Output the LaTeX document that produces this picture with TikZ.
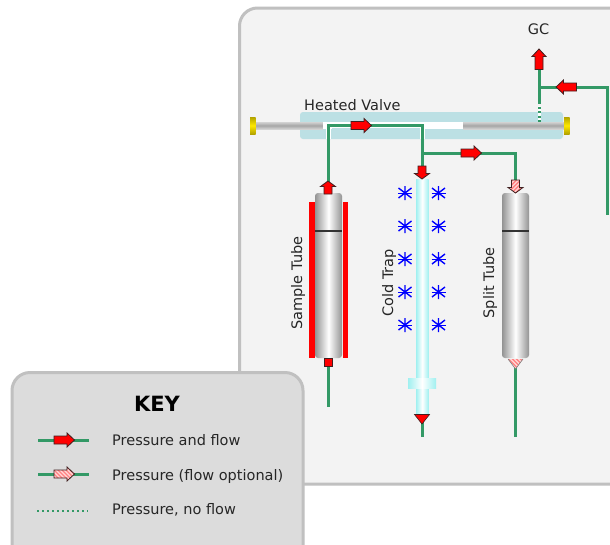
\documentclass[tikz,border=0pt]{standalone}
\usepackage{fontspec}
\setmainfont{DejaVu Sans}
\definecolor{pipe}{HTML}{339966}
\definecolor{panelfill}{HTML}{F3F3F3}
\definecolor{keyfill}{HTML}{DCDCDC}
\definecolor{frame}{HTML}{C0C0C0}
\definecolor{plate}{HTML}{BCE0E4}
\definecolor{pinkfill}{HTML}{FFD8D8}
\definecolor{hatch}{HTML}{FF8080}
\definecolor{trap}{HTML}{A0F0F0}
\definecolor{cap}{HTML}{FFE800}
\definecolor{outl}{HTML}{402020}
\newcommand{\hatchlines}{\foreach \hh in {-18,-14,...,18}{\draw[hatch,line width=1.4pt] (\hh-9,-9) -- (\hh+9,9);}}
\tikzset{
  x=1pt,y=-1pt,
  pipeline/.style={draw=pipe,line width=3pt},
  panel/.style={draw=frame,line width=3pt,rounded corners=18pt},
  lbl/.style={inner sep=0pt,font=\fontsize{14.5}{17}\selectfont,text=black!85},
  solidarrow/.style={draw=outl,line width=0.8pt,fill=red},
  tubegrad/.style={left color=gray!85,right color=gray!85,middle color=white},
  trapgrad/.style={left color=trap,right color=trap,middle color=white},
  rodgrad/.style={top color=gray!35,bottom color=gray!35,middle color=gray!70},
  capgrad/.style={top color=cap!70!black,bottom color=cap!70!black,middle color=cap},
  flake/.style={draw=blue,line width=1.4pt},
  pics/blockarrow/.style={code={
    \path[pic actions] (-10,-4) -- (3,-4) -- (3,-7) -- (10.5,0) -- (3,7) -- (3,4) -- (-10,4) -- cycle;
  }},
  pics/softblock/.style={code={
    \fill[pinkfill] (-10,-4) -- (3,-4) -- (3,-7) -- (10.5,0) -- (3,7) -- (3,4) -- (-10,4) -- cycle;
    \begin{scope}
      \clip (-10,-4) -- (3,-4) -- (3,-7) -- (10.5,0) -- (3,7) -- (3,4) -- (-10,4) -- cycle;
      \hatchlines
    \end{scope}
    \draw[outl,line width=0.8pt] (-10,-4) -- (3,-4) -- (3,-7) -- (10.5,0) -- (3,7) -- (3,4) -- (-10,4) -- cycle;
  }},
  pics/stubarrow/.style={code={
    \path[pic actions] (-7,-4) -- (0.5,-4) -- (0.5,-7.5) -- (6,0) -- (0.5,7.5) -- (0.5,4) -- (-7,4) -- cycle;
  }},
  pics/softstub/.style={code={
    \fill[pinkfill] (-7,-4) -- (0.5,-4) -- (0.5,-7.5) -- (6,0) -- (0.5,7.5) -- (0.5,4) -- (-7,4) -- cycle;
    \begin{scope}
      \clip (-7,-4) -- (0.5,-4) -- (0.5,-7.5) -- (6,0) -- (0.5,7.5) -- (0.5,4) -- (-7,4) -- cycle;
      \hatchlines
    \end{scope}
    \draw[outl,line width=0.8pt] (-7,-4) -- (0.5,-4) -- (0.5,-7.5) -- (6,0) -- (0.5,7.5) -- (0.5,4) -- (-7,4) -- cycle;
  }},
  pics/softtip/.style={code={
    \fill[pinkfill] (-7.5,-5) -- (7.5,-5) -- (0,5) -- cycle;
    \begin{scope}
      \clip (-7.5,-5) -- (7.5,-5) -- (0,5) -- cycle;
      \hatchlines
    \end{scope}
    \draw[gray,line width=0.6pt] (-7.5,-5) -- (0,5) -- (7.5,-5);
  }},
  pics/snow/.style={code={
    \draw[flake] (0,-7) -- (0,7) (-6.5,-5) -- (6.5,5) (-6.5,5) -- (6.5,-5);
    \draw[flake,line width=1pt] (-7,0) -- (7,0);
  }}
}
\begin{document}
\begin{tikzpicture}
\useasboundingbox (0,0) rectangle (610,544);
\fill[white] (0,0) rectangle (610,544);
% main panel
\begin{scope}
\clip (0,0) rectangle (610,544);
\draw[panel,fill=panelfill] (239.5,484) -- (239.5,8) -- (640,8) -- (640,484) -- cycle;
\end{scope}
% valve
\fill[plate,rounded corners=3pt] (300,112) rectangle (563,139);
\shade[rodgrad] (255,122) rectangle (323,129);
\shade[rodgrad] (463,122) rectangle (564,129);
\fill[white] (323,122) rectangle (463,129);
\shade[capgrad] (250,117) rectangle (255.5,134);
\shade[capgrad] (564,117) rectangle (569.5,134);
\node[lbl,anchor=base west] (hv) at (304,110) {Heated Valve};
\node[lbl,anchor=base] (gc) at (538.5,34) {GC};
% junction points
\coordinate (sTop) at (328,185);
\coordinate (sCorner) at (328,125.5);
\coordinate (tee) at (422,125.5);
\coordinate (trapIn) at (422,170);
\coordinate (branch) at (422,153);
\coordinate (bCorner) at (515.5,153);
\coordinate (spTop) at (515.5,185);
\coordinate (gcTop) at (539,65);
\coordinate (gcTee) at (539,87);
\coordinate (gcDot) at (539,102);
\coordinate (gcRod) at (539,122);
\coordinate (feedC) at (607,87);
\coordinate (feedEnd) at (607,215);
% white halo of the channel
\draw[draw=white,line width=5pt] (328,139) -- (sCorner);
\draw[draw=white,line width=5pt] (422,125.5) -- (422,139);
\fill[plate] (332,127.5) rectangle (419.5,129);
% pipes
\draw[pipeline] (sTop) -- (sCorner) -- (tee) -- (trapIn);
\draw[pipeline] (branch) -- (bCorner) -- (spTop);
\draw[pipeline] (gcTop) -- (gcDot);
\draw[pipeline] (gcTee) -- (feedC) -- (feedEnd);
\draw[draw=white,line width=3pt] (539,106) -- (gcRod);
\draw[draw=pipe,line width=3pt,dash pattern=on 2pt off 2.5pt] (gcDot) -- (gcRod);
% lower pipes
\coordinate (sBot) at (328,360);
\coordinate (sEnd) at (328,407);
\coordinate (tBot) at (422,420);
\coordinate (tEnd) at (422,437);
\coordinate (pBot) at (515.5,362);
\coordinate (pEnd) at (515.5,437);
\draw[pipeline] (sBot) -- (sEnd);
\draw[pipeline] (tBot) -- (tEnd);
\draw[pipeline] (pBot) -- (pEnd);
% arrows on pipes
\pic[solidarrow] at (361,125.5) {blockarrow};
\pic[solidarrow] at (471,153) {blockarrow};
\pic[solidarrow,rotate=90] at (539,59.5) {blockarrow};
\pic[solidarrow,rotate=180] at (566.5,87) {blockarrow};
% sample tube
\fill[red] (309,202) rectangle (314.5,358);
\fill[red] (342.5,202) rectangle (348,358);
\shade[tubegrad,rounded corners=3pt] (315,193) rectangle (342,358);
\draw[black!80,line width=1.3pt] (315,231) -- (342,231);
\pic[solidarrow,rotate=90] at (328,187) {stubarrow};
\draw[outl,line width=0.6pt,fill=red] (324,358) rectangle (332,366);
\node[lbl,rotate=90,anchor=center] (st) at (298,283) {Sample Tube};
% cold trap
\shade[trapgrad] (416,179) rectangle (428.5,414);
\shade[trapgrad] (408,378) rectangle (436,388);
\pic[solidarrow,rotate=-90] at (422,173) {stubarrow};
\draw[outl,line width=0.6pt,fill=red] (414.5,414.5) -- (429.5,414.5) -- (422,424) -- cycle;
\node[lbl,rotate=90,anchor=center] (ct) at (389,283) {Cold Trap};
\foreach \yy in {193,226,259,292,325}{
  \pic at (405,\yy) {snow};
  \pic at (438.5,\yy) {snow};
}
% split tube
\shade[tubegrad,rounded corners=3pt] (502,193) rectangle (529,358);
\draw[black!80,line width=1.3pt] (502,231) -- (529,231);
\pic[rotate=-90] at (515.5,187) {softstub};
\pic at (515.5,364) {softtip};
\node[lbl,rotate=90,anchor=center] (spt) at (490,283) {Split Tube};
% key
\begin{scope}
\clip (0,0) rectangle (610,544);
\draw[panel,fill=keyfill] (12,570) -- (12,372.5) -- (303,372.5) -- (303,570) -- cycle;
\end{scope}
\node[inner sep=0pt,font=\fontsize{21}{24}\selectfont\bfseries] (key) at (157,403.5) {KEY};
\coordinate (k1a) at (38,440);
\coordinate (k1b) at (89,440);
\coordinate (k2a) at (38,474);
\coordinate (k2b) at (89,474);
\coordinate (k3a) at (37,511);
\coordinate (k3b) at (88,511);
\draw[pipeline] (k1a) -- (k1b);
\draw[pipeline] (k2a) -- (k2b);
\draw[draw=pipe,line width=2pt,dash pattern=on 2pt off 3pt] (k3a) -- (k3b);
\pic[solidarrow] at (64,440) {blockarrow};
\pic at (64,474) {softblock};
\node[lbl,anchor=base west] (t1) at (112,445) {Pressure and flow};
\node[lbl,anchor=base west] (t2) at (112,480.5) {Pressure (flow optional)};
\node[lbl,anchor=base west] (t3) at (112,514.5) {Pressure, no flow};
\end{tikzpicture}
\end{document}
